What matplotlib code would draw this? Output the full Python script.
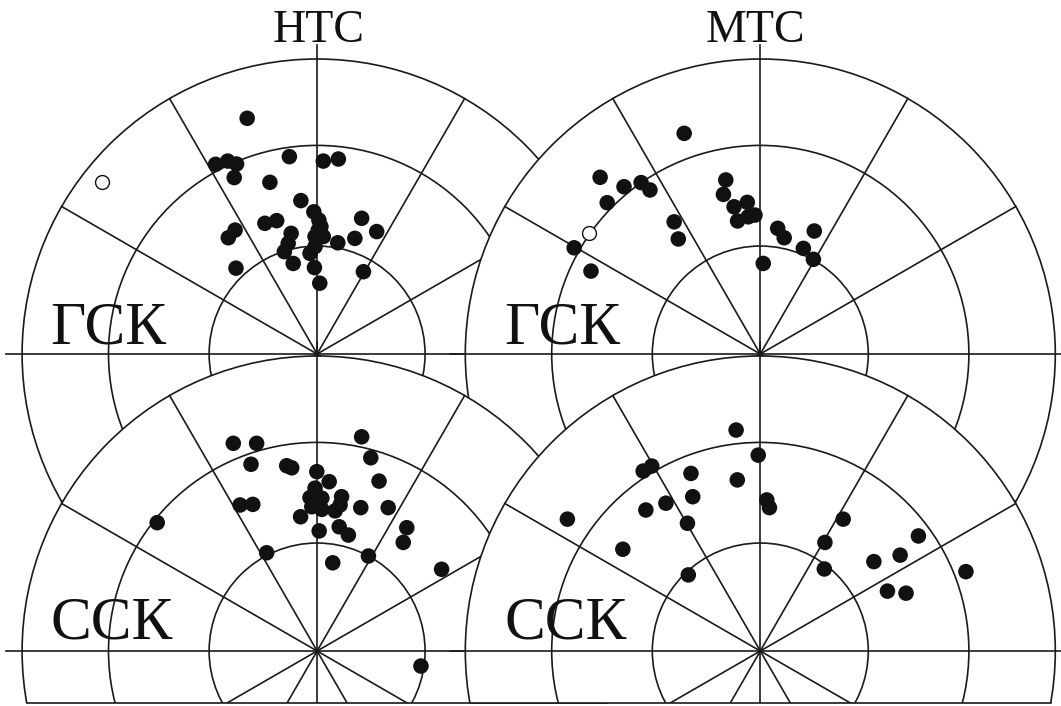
import numpy as np
import matplotlib.pyplot as plt
from matplotlib.patches import Circle

plt.rcParams['font.family'] = ['Liberation Serif', 'DejaVu Serif']

# pole positions on the net, in units of the net radius (outer circle = 1)
# НТС / ГСК
htc_gsk_x = [-0.237, -0.344, -0.303, -0.273, -0.281, -0.094, 0.021, 0.072, -0.160, -0.055,
             -0.011, 0.006, 0.013, 0.151, 0.202, 0.128, 0.070, 0.021, -0.007, -0.007,
             -0.024, -0.177, -0.137, -0.278, -0.301, -0.088, -0.098, -0.111, -0.081, -0.009,
             0.009, 0.157, -0.275, 0.004]
htc_gsk_y = [0.799, 0.643, 0.654, 0.644, 0.598, 0.669, 0.654, 0.661, 0.582, 0.520,
             0.482, 0.454, 0.432, 0.460, 0.415, 0.392, 0.377, 0.398, 0.398, 0.364,
             0.341, 0.443, 0.452, 0.420, 0.394, 0.409, 0.375, 0.347, 0.307, 0.293,
             0.240, 0.279, 0.291, 0.420]
htc_gsk_open_x = [-0.729]
htc_gsk_open_y = [0.584]

# МТС / ГСК
mtc_gsk_x = [-0.258, -0.543, -0.462, -0.404, -0.374, -0.519, -0.631, -0.574, -0.292, -0.278,
             -0.117, -0.125, -0.089, -0.044, -0.077, -0.018, -0.041, 0.059, 0.081, 0.183,
             0.146, 0.180, 0.010]
mtc_gsk_y = [0.748, 0.599, 0.567, 0.581, 0.556, 0.513, 0.360, 0.281, 0.448, 0.390,
             0.590, 0.541, 0.499, 0.514, 0.451, 0.471, 0.465, 0.426, 0.394, 0.417,
             0.358, 0.321, 0.307]
mtc_gsk_open_x = [-0.580]
mtc_gsk_open_y = [0.409]

# НТС / ССК
htc_csk_x = [-0.284, -0.205, -0.224, -0.103, -0.086, -0.001, 0.041, -0.007, -0.024, 0.016,
             0.083, 0.078, 0.016, -0.018, 0.061, -0.056, 0.007, 0.075, 0.106, 0.148,
             0.241, 0.151, 0.182, 0.210, 0.304, 0.292, 0.422, 0.174, 0.053, -0.171,
             -0.261, -0.218, -0.542, 0.352]
htc_csk_y = [0.704, 0.704, 0.633, 0.628, 0.621, 0.608, 0.574, 0.552, 0.520, 0.518,
             0.523, 0.495, 0.480, 0.489, 0.475, 0.455, 0.407, 0.421, 0.393, 0.486,
             0.486, 0.726, 0.655, 0.576, 0.418, 0.368, 0.277, 0.322, 0.299, 0.333,
             0.495, 0.497, 0.435, -0.051]

# МТС / ССК
mtc_csk_x = [-0.082, -0.007, -0.397, -0.368, -0.235, -0.078, -0.229, -0.320, -0.388, -0.247,
             -0.654, -0.466, -0.244, 0.022, 0.031, 0.281, 0.219, 0.217, 0.385, 0.474,
             0.536, 0.697, 0.431, 0.494]
mtc_csk_y = [0.749, 0.664, 0.610, 0.627, 0.602, 0.580, 0.523, 0.501, 0.478, 0.433,
             0.447, 0.345, 0.258, 0.512, 0.486, 0.447, 0.368, 0.278, 0.303, 0.325,
             0.390, 0.269, 0.203, 0.196]

ring_dips = [30, 60, 90]          # equal-area net circles
spoke_step = 30

W, H = 1061, 706
R = 295.0                          # net radius in px
lc = '#1a1a1a'
lw = 1.2

# (center x px, center y px, title, label, filled, open, bottom of axes)
panels = [
    (317.1, 354.0, 'НТС', 'ГСК', (htc_gsk_x, htc_gsk_y), (htc_gsk_open_x, htc_gsk_open_y), -1.05),
    (760.3, 354.0, 'МТС', 'ГСК', (mtc_gsk_x, mtc_gsk_y), (mtc_gsk_open_x, mtc_gsk_open_y), -1.05),
    (317.1, 651.0, None, 'ССК', (htc_csk_x, htc_csk_y), None, -0.177),
    (760.3, 651.0, None, 'ССК', (mtc_csk_x, mtc_csk_y), None, -0.177),
]

fig = plt.figure(figsize=(W / 100, H / 100), dpi=100)
fig.patch.set_facecolor('white')

ring_r = np.sqrt(2) * np.sin(np.radians(ring_dips) / 2)

for k, (cx, cy, title, label, pts, opts, ybot) in enumerate(panels):
    top_px = cy - 1.25 * R
    bot_px = cy - ybot * R
    ax = fig.add_axes([(cx - 1.2 * R) / W, 1 - bot_px / H, 2.4 * R / W, (bot_px - top_px) / H])
    ax.set_xlim(-1.2, 1.2)
    ax.set_ylim(ybot, 1.25)
    ax.set_zorder(k)
    ax.patch.set_visible(False)
    ax.axis('off')

    ax.add_patch(Circle((0, 0), 1.0, facecolor='white', edgecolor='none', zorder=1))
    for r in ring_r:
        ax.add_patch(Circle((0, 0), r, fill=False, edgecolor=lc, lw=lw, zorder=2))
    for a in range(0, 360, spoke_step):
        if a % 90 == 0:
            continue
        t = np.radians(a)
        ax.plot([0, np.cos(t)], [0, np.sin(t)], color=lc, lw=lw, zorder=2)
    ax.plot([-1.053, 1.053], [0, 0], color=lc, lw=lw, zorder=2)
    ax.plot([0, 0], [-1.05, 1.048], color=lc, lw=lw, zorder=2)
    if ybot > -1:
        half = np.sqrt(1 - ybot ** 2)
        ax.plot([-half, half], [ybot, ybot], color=lc, lw=lw, zorder=2, clip_on=False)

    ax.scatter(pts[0], pts[1], s=125, c='#111111', edgecolors='none', zorder=3)
    if opts is not None:
        ax.scatter(opts[0], opts[1], s=100, facecolors='white', edgecolors='#111111',
                   linewidths=1.0, zorder=3)

    lx = -0.903 if k % 2 == 0 else -0.868
    ly = 0.036 if k < 2 else 0.042
    ax.text(lx, ly, label, fontsize=44, ha='left', va='baseline', color='#111111', zorder=4)
    if title:
        tx = 0.005 if k == 0 else -0.018
        ax.text(tx, 1.057, title, fontsize=33, ha='center', va='baseline', color='#111111',
                zorder=4, clip_on=False)

fig.savefig('out.png', dpi=100, facecolor='white')
